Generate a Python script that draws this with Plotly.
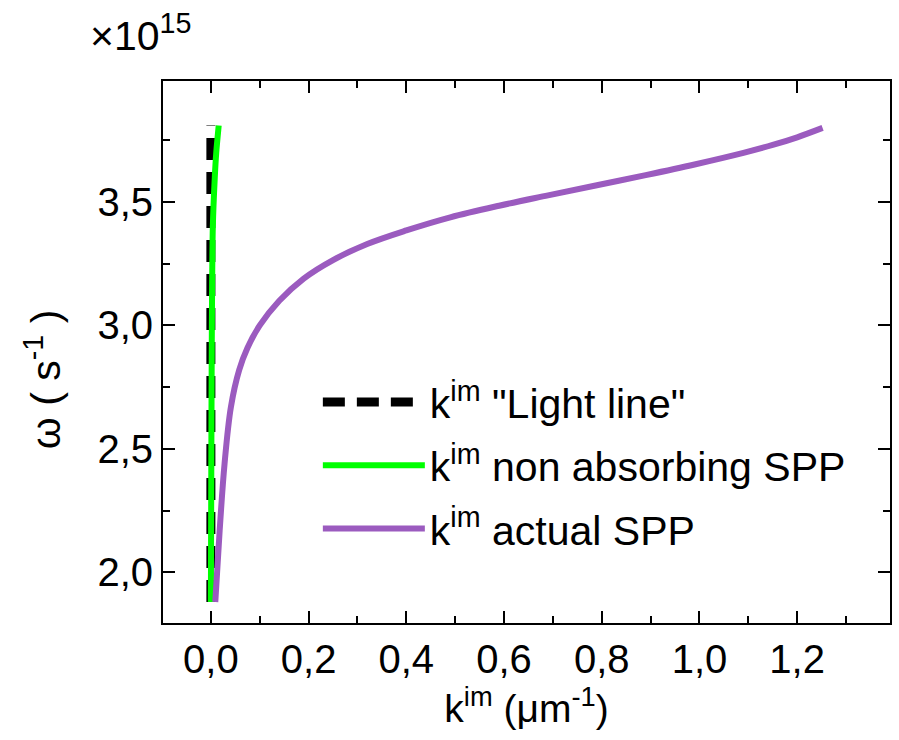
import plotly.graph_objects as go

# Dispersion data: omega in units of 1e15 s^-1, imaginary wavevector in 1/um
light_omega = [1.88, 3.81]
light_kim = [0.0, 0.0]

nonabs_omega = [1.88, 2.5, 3.0, 3.4, 3.6, 3.7, 3.81]
nonabs_kim = [0.0, 0.001, 0.002, 0.004, 0.008, 0.011, 0.016]

actual_omega = [1.88, 2.17, 2.44, 2.67, 2.82, 2.91, 3.00, 3.10, 3.19, 3.265,
                3.330, 3.385, 3.438, 3.485, 3.527, 3.568, 3.609, 3.652, 3.699,
                3.731, 3.762, 3.800]
actual_kim = [0.009, 0.018, 0.028, 0.041, 0.058, 0.075, 0.10, 0.14, 0.19, 0.25,
              0.32, 0.40, 0.49, 0.59, 0.69, 0.79, 0.89, 0.99, 1.09,
              1.15, 1.20, 1.252]

x_ticks = [0.0, 0.2, 0.4, 0.6, 0.8, 1.0, 1.2]
y_ticks = [2.0, 2.5, 3.0, 3.5]

FONT = "Liberation Sans, Arial, sans-serif"

fig = go.Figure()
fig.add_trace(go.Scatter(
    x=light_kim, y=light_omega, mode="lines",
    name='k<sup>im</sup> "Light line"', legendgroup="a",
    line=dict(color="black", width=9, dash="22px,12px"),
))
fig.add_trace(go.Scatter(
    x=nonabs_kim, y=nonabs_omega, mode="lines",
    name="k<sup>im</sup> non absorbing SPP", legendgroup="b",
    line=dict(color="#00ff00", width=6, shape="spline", smoothing=0.8),
))
fig.add_trace(go.Scatter(
    x=actual_kim, y=actual_omega, mode="lines",
    name="k<sup>im</sup> actual SPP", legendgroup="c",
    line=dict(color="#9b5bbf", width=6, shape="spline", smoothing=1.0),
))

axis_common = dict(
    showline=True, linecolor="black", linewidth=2, mirror="allticks",
    ticks="inside", ticklen=12, tickwidth=2, tickcolor="black",
    showgrid=False, zeroline=False,
    tickfont=dict(family=FONT, size=40, color="black"),
)

fig.update_xaxes(
    range=[-0.098, 1.39], tickvals=x_ticks, tickformat=".1f",
    minor=dict(dtick=0.1, ticks="inside", ticklen=7, tickwidth=2, tickcolor="black"),
    title=dict(text="k<sup>im</sup> (μm<sup>-1</sup>)",
               font=dict(family=FONT, size=39, color="black"), standoff=4),
    **axis_common,
)
fig.update_yaxes(
    range=[1.795, 3.99], tickvals=y_ticks, tickformat=".1f",
    minor=dict(dtick=0.25, ticks="inside", ticklen=7, tickwidth=2, tickcolor="black"),
    **axis_common,
)

fig.add_annotation(
    text="ω ( s<sup>-1</sup> )", textangle=-90,
    xref="paper", yref="paper", x=-0.165, y=0.45,
    xanchor="center", yanchor="middle", showarrow=False,
    font=dict(family=FONT, size=41, color="black"),
)
fig.add_annotation(
    text="×10<sup>15</sup>",
    xref="paper", yref="paper", x=-0.103, y=1.0, yshift=48,
    xanchor="left", yanchor="middle", showarrow=False,
    font=dict(family=FONT, size=41, color="black"),
)

fig.update_layout(
    width=899, height=740,
    margin=dict(l=163, r=7, t=81, b=117),
    plot_bgcolor="white", paper_bgcolor="white",
    separators=", ",
    font=dict(family=FONT, size=38, color="black"),
    legend=dict(
        x=0.213, y=0.469, xanchor="left", yanchor="top",
        bgcolor="rgba(0,0,0,0)", itemwidth=102,
        font=dict(family=FONT, size=41, color="black"),
        tracegroupgap=7,
    ),
    showlegend=True,
)

fig.write_html("out.html")
